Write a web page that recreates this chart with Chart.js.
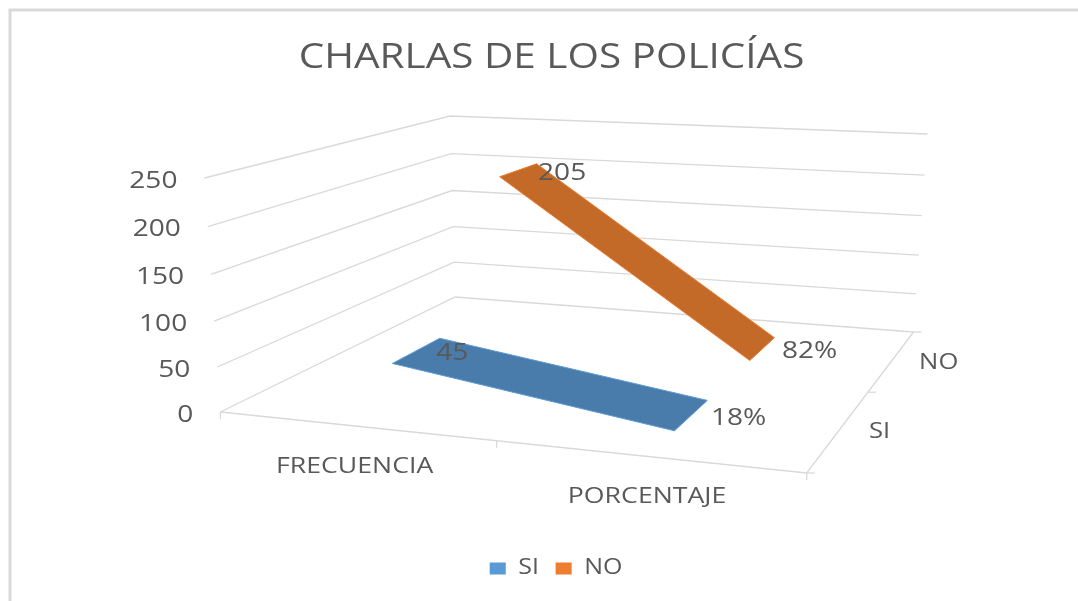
<!DOCTYPE html>
<html><head><meta charset="utf-8">
<script src="https://cdn.jsdelivr.net/npm/chart.js@4"></script>
<style>html,body{margin:0;padding:0;background:#fff}canvas{display:block;filter:blur(0.45px)}</style>
</head><body><canvas id="c" width="1078" height="601"></canvas>
<script>
const chartTitle = "CHARLAS DE LOS POLICÍAS";
const categories = ["FRECUENCIA", "PORCENTAJE"];
const seriesNames = ["SI", "NO"];
const siValues = [45, 0.18];
const noValues = [205, 0.82];
const siLabels = ["45", "18%"];
const noLabels = ["205", "82%"];
const valueTicks = [0, 50, 100, 150, 200, 250];

// picture-space box of the 3D plot: [u,w] corners of the floor and of the top plane
const FLOOR = [[220,412],[807,473],[914,332],[455,297]];
const TOP   = [[204,178],[820,210],[928,134],[450,116]];
const Z_MAX = 250, Z_BEND = 1.05;
const FONT = "'Open Sans'", GREY = "#595959", GRID = "#d9d9d9";
const BANDS = {SI:[0.15,0.35], NO:[0.65,0.85]};
const BOX_STRETCH = 1.19, BOX_CENTER = 473, TEXT_STRETCH = 1.22, CATEGORY_STRETCH = 1.27;

function homography(q){ // unit square -> quad
  const [[x0,y0],[x1,y1],[x2,y2],[x3,y3]] = q;
  const dx1=x1-x2, dx2=x3-x2, sx=x0-x1+x2-x3, dy1=y1-y2, dy2=y3-y2, sy=y0-y1+y2-y3;
  const d=dx1*dy2-dx2*dy1, g=(sx*dy2-dx2*sy)/d, h=(dx1*sy-sx*dy1)/d;
  const a=x1-x0+g*x1, b=x3-x0+h*x3, c=x0, e=y1-y0+g*y1, f=y3-y0+h*y3;
  return (u,w)=>{const n=g*u+h*w+1;return [(a*u+b*w+c)/n,(e*u+f*w+y0)/n];};
}
const hFloor=homography(FLOOR), hTop=homography(TOP);
function project(u,w,z){
  const t=z/Z_MAX, s=t/(t+Z_BEND*(1-t));
  const a=hFloor(u,w), b=hTop(u,w);
  return {x:a[0]+(b[0]-a[0])*s, y:a[1]+(b[1]-a[1])*s};
}
const catU = i => (i+0.5)/categories.length;

function ribbon(vals,band){
  const u0=catU(0), u1=catU(1);
  return [project(u0,band[0],vals[0]),project(u0,band[1],vals[0]),project(u1,band[1],vals[1]),project(u1,band[0],vals[1]),project(u0,band[0],vals[0])];
}
const lineDs=(data)=>({label:"",type:"scatter",showLine:true,data,borderColor:GRID,borderWidth:1.3,pointRadius:0,fill:false,order:5,clip:false,tension:0});
const gridDs=[];
valueTicks.forEach(v=>gridDs.push(lineDs([project(0,0,v),project(0,1,v),project(1,1,v)])));
gridDs.push(lineDs([project(0,0,0),project(1,0,0),project(1,1,0)]));
// tick marks
[0,0.5,1].forEach(u=>{const p=project(u,0,0);gridDs.push(lineDs([p,{x:p.x,y:p.y+7}]));});
[0,0.5,1].forEach(w=>{const p=project(1,w,0);gridDs.push(lineDs([p,{x:p.x+8,y:p.y}]));});

const ribbonDs=(name,vals,fillC,edgeC)=>({label:name,type:"scatter",showLine:true,data:ribbon(vals,BANDS[name]),
  backgroundColor:fillC,borderColor:edgeC,borderWidth:1,pointRadius:0,fill:"shape",order:1,clip:false,tension:0});

const textPlugin={id:"texts",
  afterLayout(ch){ch.legend.left+=3.8;ch.legend.right+=3.8;},
  beforeDraw(ch){
    const c=ch.ctx;
    c.save();c.strokeStyle=GRID;c.lineWidth=3;c.beginPath();c.moveTo(10,601);c.lineTo(10,10);c.lineTo(1078,10);c.stroke();c.restore();
    // the title and legend of the reference are drawn horizontally stretched
    c.save();c.translate(BOX_CENTER,0);c.scale(BOX_STRETCH,1);c.translate(-BOX_CENTER,0);
  },
  beforeDatasetsDraw(ch){ch.ctx.restore();},
  afterDatasetsDraw(ch){
    const c=ch.ctx,X=ch.scales.x,Y=ch.scales.y;
    const put=(t,x,y,al,size,k=TEXT_STRETCH)=>{c.save();c.translate(X.getPixelForValue(x),Y.getPixelForValue(y));c.scale(k,1);
      c.font=size+"px "+FONT;c.textAlign=al;c.textBaseline="middle";c.fillStyle=GREY;c.fillText(t,0,0);c.restore();};
    valueTicks.forEach(v=>{const p=project(0,0,v);put(String(v),p.x-27,p.y+3,"right",23);});
    categories.forEach((n,i)=>{const p=project(catU(i),0,0);put(n,p.x,p.y+41,"center",21,CATEGORY_STRETCH);});
    seriesNames.forEach((n,i)=>{const w=(i+0.5)/2,p=project(1,w,0);put(n,p.x+40+13*(w-0.25),p.y+3,"center",21);});
    const lab=(vals,txt,band)=>vals.forEach((v,i)=>{const p=project(catU(i),(band[0]+band[1])/2,v);put(txt[i],p.x+19.5,p.y+3,"left",23);});
    lab(siValues,siLabels,BANDS.SI);lab(noValues,noLabels,BANDS.NO);
  }};
const legendColors={SI:"#5b9bd5",NO:"#ed7d31"};
const chart=new Chart(document.getElementById("c"),{
  type:"scatter",
  data:{datasets:[ribbonDs("SI",siValues,"#4a7cab","#5b9bd5"),ribbonDs("NO",noValues,"#c46a28","#ed7d31"),...gridDs]},
  plugins:[textPlugin],
  options:{responsive:false,animation:false,devicePixelRatio:1,
    layout:{padding:{bottom:12,top:0,left:0,right:0}},
    scales:{x:{type:"linear",min:0,max:1078,display:false},y:{type:"linear",min:0,max:601,reverse:true,display:false}},
    plugins:{tooltip:{enabled:false},
      title:{display:true,text:chartTitle,color:GREY,font:{family:FONT,size:34,weight:"normal"},padding:{top:38,bottom:10}},
      legend:{position:"bottom",labels:{boxWidth:13.5,boxHeight:12,color:GREY,font:{family:FONT,size:21},padding:14,
        filter:i=>!!i.text,
        generateLabels:ch=>seriesNames.map((n,i)=>({text:n,fillStyle:legendColors[n],strokeStyle:legendColors[n],lineWidth:0,datasetIndex:i,hidden:false,fontColor:GREY}))}}}
  }});
// make data units equal page pixels inside the area the title and legend left free
const a=chart.chartArea;
chart.options.scales.y.min=a.top;chart.options.scales.y.max=a.bottom;
chart.update("none");
</script></body></html>
